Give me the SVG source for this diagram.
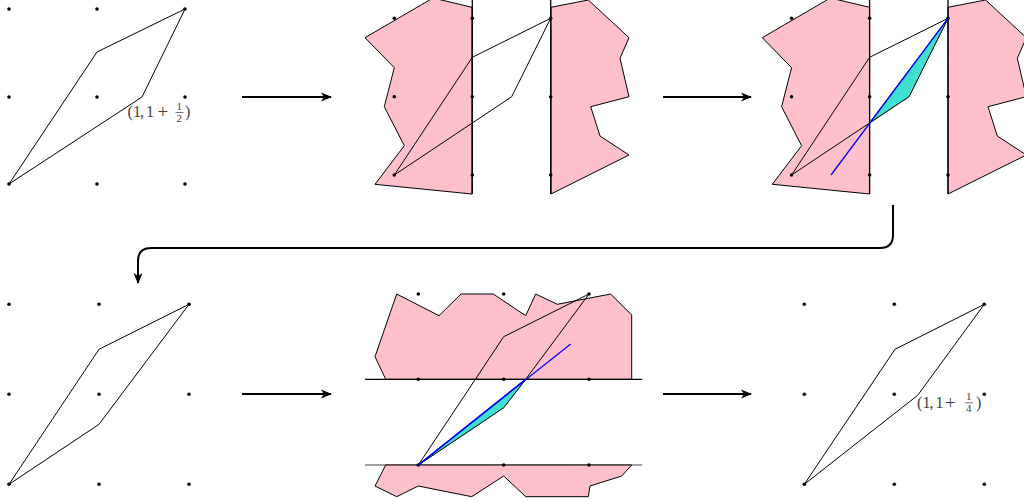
<svg xmlns="http://www.w3.org/2000/svg" width="1024" height="501" viewBox="0 0 1024 501">
<style>
.dot{fill:#000}
.edge{fill:none;stroke:#000;stroke-width:1;stroke-linejoin:round}
.pink{fill:#FFC0CB;stroke:#000;stroke-width:1;stroke-linejoin:round}
.teal{fill:#40E0D0;stroke:#000;stroke-width:0.8}
.vline{stroke:#000;stroke-width:1.3}
.blue{stroke:#0000FF;stroke-width:1.3;fill:none}
.arrow{fill:none;stroke:#000;stroke-width:2;stroke-linejoin:round}
.lbl{font-family:"Liberation Serif","DejaVu Serif",serif;fill:#404040}
.big{font-size:16px}
.pls{font-size:19px}
.sm{font-size:11px}
</style>
<defs>
<marker id="ah" markerUnits="userSpaceOnUse" markerWidth="14" markerHeight="12" viewBox="-1 -6 14 12" refX="10" refY="0" orient="auto">
<path d="M0,-4.5 L11,0 L0,4.5 L3,0 z" fill="#000"/>
</marker>
</defs>

<g id="panel1">
<g class="dot">
<circle cx="9" cy="9" r="1.8"/><circle cx="97" cy="9" r="1.8"/><circle cx="185" cy="9" r="1.8"/>
<circle cx="9" cy="97" r="1.8"/><circle cx="97" cy="97" r="1.8"/><circle cx="185" cy="97" r="1.8"/>
<circle cx="9" cy="184" r="1.8"/><circle cx="97" cy="184" r="1.8"/><circle cx="185" cy="184" r="1.8"/>
</g>
<polygon class="edge" points="9,184 97,52 185,9 142,97"/>
<g class="lbl">
<text class="big" x="127.5" y="117">(</text>
<text class="big" x="133" y="117">1</text>
<text class="big" x="140" y="117">,</text>
<text class="big" x="146" y="117">1</text>
<text class="pls" x="157.5" y="118">+</text>
<text class="sm" x="176.5" y="110">1</text>
<line x1="175.5" y1="112.5" x2="183.5" y2="112.5" stroke="#404040" stroke-width="0.7"/>
<text class="sm" x="176.5" y="121.5">2</text>
<text class="big" x="185" y="117">)</text>
</g>
</g>

<g id="panel2">
<polygon class="pink" points="433,-2 472,7.3 472,194 375,184.3 404.3,145.7 384.3,106.7 394.3,67.7 365,37.7"/>
<polygon class="pink" points="551,7.3 588.3,0 629,37.7 620,58.3 629,96.7 590.7,106.7 600,136 629,155 551,194"/>
<g class="dot">
<circle cx="394.3" cy="18.3" r="1.8"/><circle cx="472.3" cy="18.3" r="1.8"/><circle cx="550.7" cy="18.3" r="1.8"/>
<circle cx="394.3" cy="96.7" r="1.8"/><circle cx="472.3" cy="96.7" r="1.8"/><circle cx="550.7" cy="96.7" r="1.8"/>
<circle cx="394.3" cy="175" r="1.8"/><circle cx="472.3" cy="175" r="1.8"/><circle cx="550.7" cy="175" r="1.8"/>
</g>
<line class="vline" x1="472.3" y1="0" x2="472.3" y2="194"/>
<line class="vline" x1="550.7" y1="0" x2="550.7" y2="194"/>
<polygon class="edge" points="394.3,175 472.3,57.3 550.7,18.3 511.7,96.7"/>
</g>

<g id="panel3">
<polygon class="pink" points="830.3,-2 869.6,7.3 869.6,194 772.3,184.3 801.6,145.7 781.6,106.7 791.6,67.7 762.3,37.7"/>
<polygon class="pink" points="948,7.3 985.6,0 1026.3,37.7 1017.3,58.3 1026.3,96.7 988,106.7 997.3,136 1026.3,155 948,194"/>
<g class="dot">
<circle cx="791.6" cy="18.3" r="1.8"/><circle cx="869.6" cy="18.3" r="1.8"/><circle cx="948" cy="18.3" r="1.8"/>
<circle cx="791.6" cy="96.7" r="1.8"/><circle cx="869.6" cy="96.7" r="1.8"/><circle cx="948" cy="96.7" r="1.8"/>
<circle cx="791.6" cy="175" r="1.8"/><circle cx="869.6" cy="175" r="1.8"/><circle cx="948" cy="175" r="1.8"/>
</g>
<line class="vline" x1="869.6" y1="0" x2="869.6" y2="194"/>
<line class="vline" x1="948" y1="0" x2="948" y2="194"/>
<polygon class="edge" points="791.6,175 869.6,57.3 948,18.3 909,96.7"/>
<polygon class="teal" points="948,18.3 909,96.7 869.6,122.7"/>
<line class="blue" x1="831" y1="175" x2="948" y2="18.3"/>
</g>

<g id="panel4">
<g class="dot">
<circle cx="9" cy="304.3" r="1.8"/><circle cx="99" cy="304.3" r="1.8"/><circle cx="189" cy="304.3" r="1.8"/>
<circle cx="9" cy="394.3" r="1.8"/><circle cx="99" cy="394.3" r="1.8"/><circle cx="189" cy="394.3" r="1.8"/>
<circle cx="9" cy="484.3" r="1.8"/><circle cx="99" cy="484.3" r="1.8"/><circle cx="189" cy="484.3" r="1.8"/>
</g>
<polygon class="edge" points="9,484.3 99,349.3 189,304.3 99,424.3"/>
</g>

<g id="panel5">
<line x1="365" y1="465" x2="642.3" y2="465" stroke="#808080" stroke-width="1.3"/>
<polygon class="pink" points="385.7,379.3 375,356.7 396.7,294 439,315.7 461,294 493.3,294 525.7,315.7 535.7,294 557.3,304.3 610.7,294 631.7,315 631.7,379.3"/>
<polygon class="pink" points="385.7,465 375,486 396.7,496.7 418.3,486 471.7,496.7 503.7,476 525.7,496.7 588.3,496.7 590,486 621.7,476 631.7,465"/>
<line x1="365" y1="379.3" x2="642.3" y2="379.3" stroke="#000" stroke-width="1.3"/>
<g class="dot">
<circle cx="418.3" cy="294" r="1.8"/><circle cx="503.7" cy="294" r="1.8"/><circle cx="589" cy="294" r="1.8"/>
<circle cx="418.3" cy="379.3" r="1.8"/><circle cx="503.7" cy="379.3" r="1.8"/><circle cx="589" cy="379.3" r="1.8"/>
<circle cx="418.3" cy="465" r="1.8"/><circle cx="503.7" cy="465" r="1.8"/><circle cx="589" cy="465" r="1.8"/>
</g>
<polygon class="edge" points="418.3,465 503.7,336.7 589,294 525.7,379.3 503.7,407.7"/>
<polygon class="teal" points="418.3,465 525.7,379.3 503.7,407.7"/>
<line class="blue" x1="418.3" y1="465" x2="570.7" y2="344" stroke-width="1"/>
<line class="blue" x1="418.3" y1="465" x2="525.7" y2="379.3"/>
</g>

<g id="panel6">
<g class="dot">
<circle cx="804.3" cy="304.3" r="1.8"/><circle cx="894.3" cy="304.3" r="1.8"/><circle cx="984.3" cy="304.3" r="1.8"/>
<circle cx="804.3" cy="394.3" r="1.8"/><circle cx="894.3" cy="394.3" r="1.8"/><circle cx="984.3" cy="394.3" r="1.8"/>
<circle cx="804.3" cy="484.3" r="1.8"/><circle cx="894.3" cy="484.3" r="1.8"/><circle cx="984.3" cy="484.3" r="1.8"/>
</g>
<polygon class="edge" points="804.3,484.3 895,349.3 984.3,304.3 917.7,395.3"/>
<g class="lbl">
<text class="big" x="917" y="407.5">(</text>
<text class="big" x="922.5" y="407.5">1</text>
<text class="big" x="929.5" y="407.5">,</text>
<text class="big" x="935.5" y="407.5">1</text>
<text class="pls" x="945" y="408.5">+</text>
<text class="sm" x="966" y="400">1</text>
<line x1="965" y1="402.8" x2="973" y2="402.8" stroke="#404040" stroke-width="0.7"/>
<text class="sm" x="966" y="412">4</text>
<text class="big" x="976" y="407.5">)</text>
</g>
</g>

<g id="connectors">
<path class="arrow" d="M242,97 L331,97" marker-end="url(#ah)"/>
<path class="arrow" d="M663,97 L751,97" marker-end="url(#ah)"/>
<path class="arrow" d="M242,394 L331,394" marker-end="url(#ah)"/>
<path class="arrow" d="M663,394 L751,394" marker-end="url(#ah)"/>
<path class="arrow" d="M893,205 L893,235 Q893,248 880,248 L151,248 Q138,248 138,261 L138,283" marker-end="url(#ah)"/>
</g>
</svg>
